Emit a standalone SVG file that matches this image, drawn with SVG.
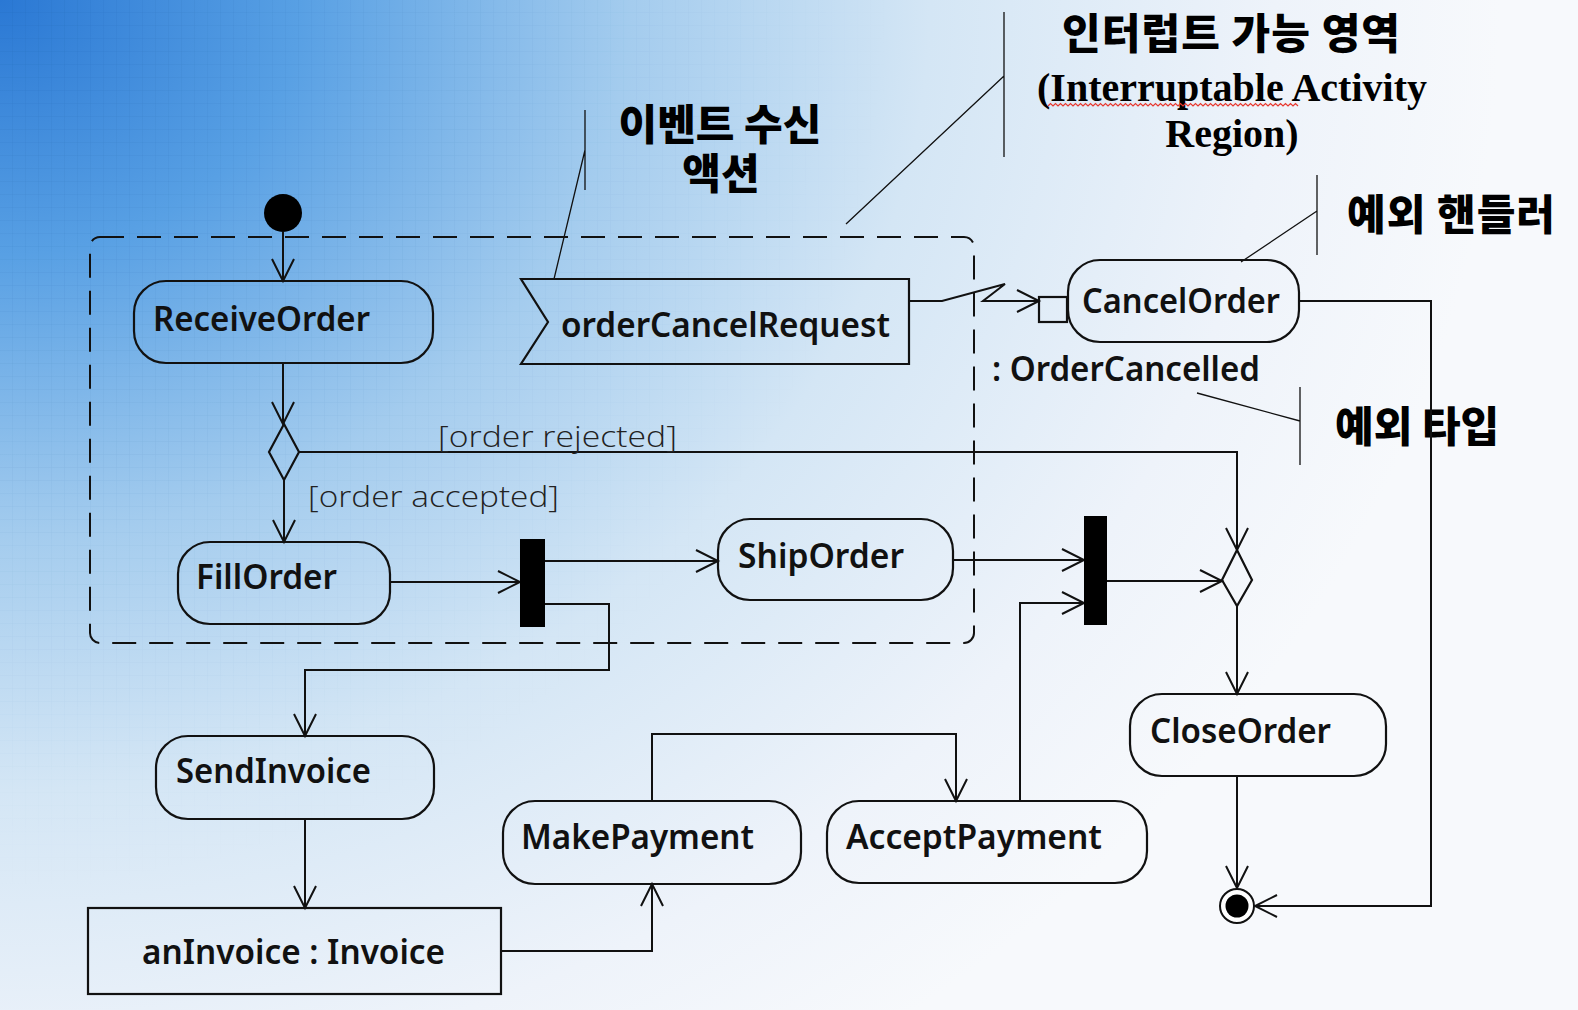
<svg xmlns="http://www.w3.org/2000/svg" width="1578" height="1010" viewBox="0 0 1578 1010">
<defs>
  <radialGradient id="bg" cx="0" cy="0" r="1500" gradientUnits="userSpaceOnUse" gradientTransform="scale(1,0.85)">
    <stop offset="0" stop-color="#2a78d4"/>
    <stop offset="0.2" stop-color="#58a0e4"/>
    <stop offset="0.42" stop-color="#a4ccee"/>
    <stop offset="0.62" stop-color="#d4e6f5"/>
    <stop offset="0.85" stop-color="#eef3fa"/>
    <stop offset="1" stop-color="#f7f9fc"/>
  </radialGradient>
  <radialGradient id="gm" cx="0" cy="0" r="1300" gradientUnits="userSpaceOnUse">
    <stop offset="0" stop-color="#fff"/>
    <stop offset="0.7" stop-color="#000"/>
  </radialGradient>
  <mask id="gridmask"><rect width="1578" height="1010" fill="url(#gm)"/></mask>
  <pattern id="grid" width="13" height="13" patternUnits="userSpaceOnUse">
    <path d="M13,0 V13 M0,13 H13" fill="none" stroke="#0d4f9a" stroke-opacity="0.12" stroke-width="1"/>
  </pattern>
  <marker id="arr" markerWidth="26" markerHeight="26" refX="22" refY="11" orient="auto" markerUnits="userSpaceOnUse" overflow="visible">
    <path d="M0,0 L22,11 L0,22" fill="none" stroke="#111" stroke-width="2"/>
  </marker>
  <style>
    .node{fill:none;stroke:#111;stroke-width:2.2}
    .bar{fill:#000}
    .lbl{font-family:"Noto Sans","Liberation Sans",sans-serif;font-weight:600;font-size:35px;fill:#111}
    .guard{font-family:"Open Sans","Liberation Sans",sans-serif;font-weight:300;font-size:30px;fill:#222}
    .kr{font-family:"Noto Sans CJK KR",sans-serif;font-weight:900;font-size:42px;fill:#000}
    .en{font-family:"Liberation Serif",serif;font-weight:bold;font-size:40px;fill:#000}
    .edge{fill:none;stroke:#111;stroke-width:2}
    .note{fill:none;stroke:#111;stroke-width:1.3}
  </style>
</defs>

<rect width="1578" height="1010" fill="url(#bg)"/>
<rect width="1578" height="1010" fill="url(#grid)" mask="url(#gridmask)"/>

<!-- annotations -->
<g id="note-interruptible">
  <text class="kr" x="1231" y="49" text-anchor="middle" textLength="338" lengthAdjust="spacing">인터럽트 가능 영역</text>
  <text class="en" x="1232" y="101" text-anchor="middle">(Interruptable Activity</text>
  <text class="en" x="1232" y="147" text-anchor="middle">Region)</text>
  <path d="M1048,106 l2.5,-2.5 l2.5,2.5 l2.5,-2.5 l2.5,2.5 l2.5,-2.5 l2.5,2.5 l2.5,-2.5 l2.5,2.5 l2.5,-2.5 l2.5,2.5 l2.5,-2.5 l2.5,2.5 l2.5,-2.5 l2.5,2.5 l2.5,-2.5 l2.5,2.5 l2.5,-2.5 l2.5,2.5 l2.5,-2.5 l2.5,2.5 l2.5,-2.5 l2.5,2.5 l2.5,-2.5 l2.5,2.5 l2.5,-2.5 l2.5,2.5 l2.5,-2.5 l2.5,2.5 l2.5,-2.5 l2.5,2.5 l2.5,-2.5 l2.5,2.5 l2.5,-2.5 l2.5,2.5 l2.5,-2.5 l2.5,2.5 l2.5,-2.5 l2.5,2.5 l2.5,-2.5 l2.5,2.5 l2.5,-2.5 l2.5,2.5 l2.5,-2.5 l2.5,2.5 l2.5,-2.5 l2.5,2.5 l2.5,-2.5 l2.5,2.5 l2.5,-2.5 l2.5,2.5 l2.5,-2.5 l2.5,2.5 l2.5,-2.5 l2.5,2.5 l2.5,-2.5 l2.5,2.5 l2.5,-2.5 l2.5,2.5 l2.5,-2.5 l2.5,2.5 l2.5,-2.5 l2.5,2.5 l2.5,-2.5 l2.5,2.5 l2.5,-2.5 l2.5,2.5 l2.5,-2.5 l2.5,2.5 l2.5,-2.5 l2.5,2.5 l2.5,-2.5 l2.5,2.5 l2.5,-2.5 l2.5,2.5 l2.5,-2.5 l2.5,2.5 l2.5,-2.5 l2.5,2.5 l2.5,-2.5 l2.5,2.5 l2.5,-2.5 l2.5,2.5 l2.5,-2.5 l2.5,2.5 l2.5,-2.5 l2.5,2.5 l2.5,-2.5 l2.5,2.5 l2.5,-2.5 l2.5,2.5 l2.5,-2.5 l2.5,2.5 l2.5,-2.5 l2.5,2.5 l2.5,-2.5 l2.5,2.5 l2.5,-2.5 l2.5,2.5 l2.5,-2.5 l2.5,2.5" fill="none" stroke="#e8382f" stroke-width="1.2"/>
  <path class="note" d="M1004,12 V157 M1004,76 L846,224"/>
</g>
<g id="note-accept-event">
  <text class="kr" text-anchor="middle" font-size="41"><tspan x="720" y="140">이벤트 수신</tspan><tspan x="721" y="189">액션</tspan></text>
  <path class="note" d="M585,110 V190 M585,150 L554,279"/>
</g>
<g id="note-handler">
  <text class="kr" x="1347" y="230" font-size="41" textLength="208" lengthAdjust="spacing">예외 핸들러</text>
  <path class="note" d="M1317,175 V255 M1317,211 L1241,262"/>
</g>
<g id="note-type">
  <text class="kr" x="1335" y="442" font-size="41">예외 타입</text>
  <path class="note" d="M1300,387 V465 M1300,421 L1197,393"/>
</g>

<!-- interruptible region -->
<g id="region">
  <rect x="90" y="237" width="884" height="406" rx="10" fill="none" stroke="#111" stroke-width="2" stroke-dasharray="24 13"/>
</g>

<!-- connectors -->
<g id="connectors">
  <path class="edge" marker-end="url(#arr)" d="M283,232 V281"/>
  <path class="edge" marker-end="url(#arr)" d="M283,363 V424"/>
  <path class="edge" marker-end="url(#arr)" d="M284,480 V542"/>
  <path class="edge" marker-end="url(#arr)" d="M299,452 H1237 V550"/>
  <path class="edge" marker-end="url(#arr)" d="M390,582 H520"/>
  <path class="edge" marker-end="url(#arr)" d="M545,561 H718"/>
  <path class="edge" marker-end="url(#arr)" d="M545,604 H609 V670 H305 V736"/>
  <path class="edge" marker-end="url(#arr)" d="M953,560 H1084"/>
  <path class="edge" marker-end="url(#arr)" d="M1020,801 V603 H1084"/>
  <path class="edge" marker-end="url(#arr)" d="M1107,581 H1222"/>
  <path class="edge" marker-end="url(#arr)" d="M1237,606 V694"/>
  <path class="edge" marker-end="url(#arr)" d="M1237,776 V888"/>
  <path class="edge" marker-end="url(#arr)" d="M1299,301 H1431 V906 H1255"/>
  <path class="edge" marker-end="url(#arr)" d="M305,819 V908"/>
  <path class="edge" marker-end="url(#arr)" d="M501,951 H652 V884"/>
  <path class="edge" marker-end="url(#arr)" d="M652,801 V734 H956 V801"/>
  <path class="edge" marker-end="url(#arr)" d="M909,301 H942 L1005,284 L983,301 H1039"/>
  <text class="guard" x="438" y="447" textLength="239" lengthAdjust="spacingAndGlyphs">[order rejected]</text>
  <text class="guard" x="308" y="507" textLength="251" lengthAdjust="spacingAndGlyphs">[order accepted]</text>
</g>

<!-- nodes -->
<g id="initial"><circle cx="283" cy="213" r="19" fill="#000"/></g>
<g id="ReceiveOrder">
  <rect class="node" x="134" y="281" width="299" height="82" rx="32"/>
  <text class="lbl" x="153" y="331" textLength="217" lengthAdjust="spacingAndGlyphs">ReceiveOrder</text>
</g>
<g id="orderCancelRequest">
  <path class="node" d="M521,279 H909 V364 H521 L548,322 Z"/>
  <text class="lbl" x="561" y="337" textLength="329" lengthAdjust="spacingAndGlyphs">orderCancelRequest</text>
</g>
<g id="CancelOrder">
  <rect class="node" x="1039" y="297" width="28" height="25"/>
  <rect class="node" x="1068" y="260" width="231" height="82" rx="32"/>
  <text class="lbl" x="1082" y="313" textLength="198" lengthAdjust="spacingAndGlyphs">CancelOrder</text>
  <text class="lbl" x="992" y="381" textLength="268" lengthAdjust="spacingAndGlyphs">: OrderCancelled</text>
</g>
<g id="decision1"><path class="node" d="M284,424 L299,452 L284,480 L269,452 Z" stroke-width="1.6"/></g>
<g id="FillOrder">
  <rect class="node" x="178" y="542" width="212" height="82" rx="32"/>
  <text class="lbl" x="196" y="589" textLength="141" lengthAdjust="spacingAndGlyphs">FillOrder</text>
</g>
<g id="fork1"><rect class="bar" x="520" y="539" width="25" height="88"/></g>
<g id="ShipOrder">
  <rect class="node" x="718" y="519" width="235" height="81" rx="32"/>
  <text class="lbl" x="738" y="568" textLength="166" lengthAdjust="spacingAndGlyphs">ShipOrder</text>
</g>
<g id="fork2"><rect class="bar" x="1084" y="516" width="23" height="109"/></g>
<g id="merge"><path class="node" d="M1237,550 L1252,580 L1237,606 L1222,580 Z" stroke-width="1.6"/></g>
<g id="CloseOrder">
  <rect class="node" x="1130" y="694" width="256" height="82" rx="32"/>
  <text class="lbl" x="1150" y="743" textLength="181" lengthAdjust="spacingAndGlyphs">CloseOrder</text>
</g>
<g id="final">
  <circle cx="1237" cy="906" r="17" fill="#fff" stroke="#111" stroke-width="2"/>
  <circle cx="1237" cy="906" r="11.5" fill="#000"/>
</g>
<g id="SendInvoice">
  <rect class="node" x="156" y="736" width="278" height="83" rx="32"/>
  <text class="lbl" x="176" y="783" textLength="195" lengthAdjust="spacingAndGlyphs">SendInvoice</text>
</g>
<g id="anInvoice">
  <rect class="node" x="88" y="908" width="413" height="86"/>
  <text class="lbl" x="142" y="964" textLength="303" lengthAdjust="spacingAndGlyphs">anInvoice : Invoice</text>
</g>
<g id="MakePayment">
  <rect class="node" x="503" y="801" width="298" height="83" rx="32"/>
  <text class="lbl" x="521" y="849" textLength="233" lengthAdjust="spacingAndGlyphs">MakePayment</text>
</g>
<g id="AcceptPayment">
  <rect class="node" x="827" y="801" width="320" height="82" rx="32"/>
  <text class="lbl" x="846" y="849" textLength="256" lengthAdjust="spacingAndGlyphs">AcceptPayment</text>
</g>
</svg>
